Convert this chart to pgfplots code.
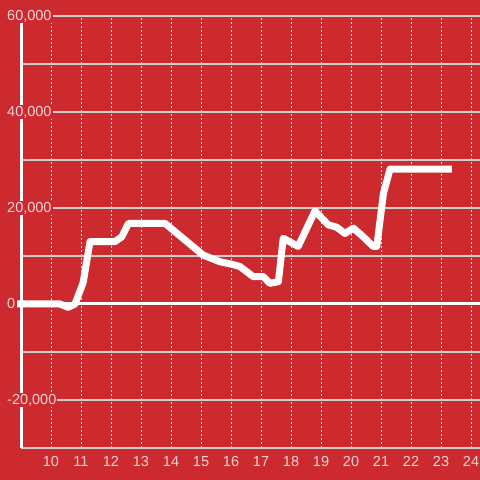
\documentclass[border=0pt]{standalone}
\usepackage{pgfplots}
\pgfplotsset{compat=1.18}
\usepackage{fontspec}
\setmainfont{Liberation Sans}
\definecolor{bg}{HTML}{CC2A2F}
\definecolor{lab}{HTML}{F3D5D6}
\definecolor{hgrid}{HTML}{CFCFCF}
\definecolor{vgrid}{HTML}{E6E6E6}
\begin{document}
\begin{tikzpicture}
\begin{axis}[
  set layers,
  at={(21bp,32bp)}, anchor=south west,
  width=459bp, height=432bp, scale only axis,
  xmin=9, xmax=24.3, ymin=-30000, ymax=60000,
  clip=false,
  scaled y ticks=false, scaled x ticks=false,
  axis lines*=left, separate axis lines,
  x axis line style={draw=none},
  y axis line style={white, line width=3bp, -},
  xtick={10,...,24},
  xticklabels={10,11,12,13,14,15,16,17,18,19,20,21,22,23,24},
  ytick={-20000,0,20000,40000,60000},
  yticklabels={{-20,000},{0},{20,000},{40,000},{60,000}},
  minor ytick={-30000,-10000,10000,30000,50000},
  xmajorgrids, ymajorgrids, yminorgrids,
  major tick length=0pt, minor tick length=0pt,
  x grid style={vgrid, line width=0.9bp, dash pattern=on 2bp off 2bp},
  y grid style={hgrid, line width=1.2bp},
  minor y grid style={hgrid, line width=1.2bp},
  tick label style={font=\fontsize{14.5bp}{16bp}\selectfont, text=lab},
  yticklabel style={anchor=west, fill=bg, inner sep=1bp, xshift=-15bp},
  xticklabel style={yshift=-5bp},
]
\begin{pgfonlayer}{axis background}
\fill[bg] (rel axis cs:-0.04575,-0.07407) rectangle (rel axis cs:1.001,1.03704);
\end{pgfonlayer}
\addplot[white, line width=3bp] coordinates {(9,0) (24.3,0)};
\addplot[white, line width=7bp, line join=round, line cap=butt] coordinates {
(8.87,0) (10.3,0) (10.57,-700) (10.8,0) (11.07,4400) (11.3,13000) (12.13,13000)
(12.36,14000) (12.58,16800) (13.8,16800) (15.07,10200) (15.63,8800) (16.02,8300)
(16.3,7800) (16.74,5700) (17.08,5700) (17.3,4300) (17.58,4650) (17.74,13700)
(18.24,12000) (18.8,19400) (19.24,16500) (19.52,16000) (19.8,14700) (20.08,15800)
(20.41,14000) (20.74,12000) (20.86,12000) (21.08,23000) (21.3,28100) (23.36,28100)
};
\end{axis}
\pgfresetboundingbox
\useasboundingbox (0,0) rectangle (480bp,480bp);
\end{tikzpicture}
\end{document}
